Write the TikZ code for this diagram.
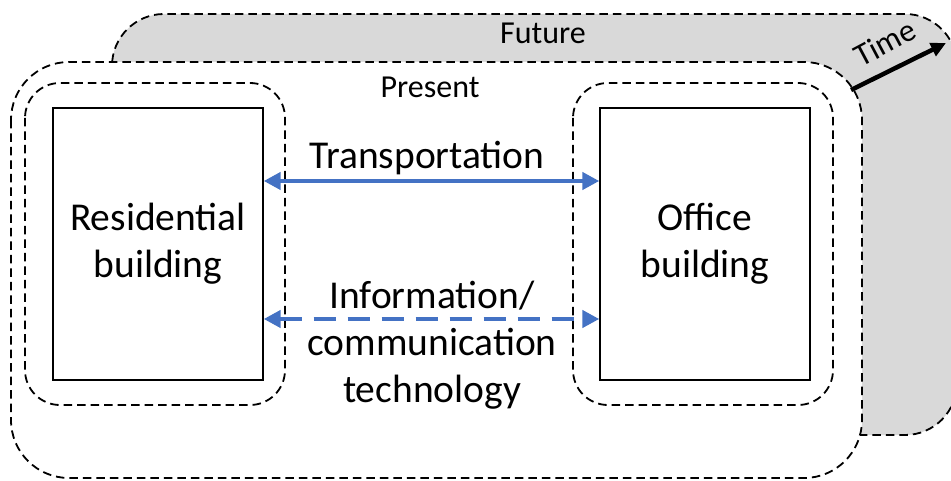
\documentclass[tikz,border=0pt]{standalone}
\usepackage{fontspec}
\setmainfont{Carlito}
\usetikzlibrary{arrows.meta}
\definecolor{grayfill}{RGB}{217,217,217}
\definecolor{linkblue}{RGB}{68,114,196}
\begin{document}
\begin{tikzpicture}[x=1pt,y=-1pt,
  dashbox/.style={draw=black,line width=1.8pt,dash pattern=on 8.5pt off 5pt},
  solidbox/.style={draw=black,line width=1.4pt,fill=white,minimum width=210pt,minimum height=272pt,inner sep=0pt,align=center,font=\fontsize{39.5}{47}\selectfont},
  bigtxt/.style={font=\fontsize{39.5}{47}\selectfont,align=center,inner sep=0pt},
  smalltxt/.style={font=\fontsize{32}{38}\selectfont,inner sep=0pt},
  link/.style={draw=linkblue,line width=4.5pt,{Triangle[length=17pt,width=17pt]}-{Triangle[length=17pt,width=17pt]}}
]
\useasboundingbox (0,0) rectangle (951,481);
% future layer
\path[dashbox,fill=grayfill,rounded corners=52pt] (112,14) rectangle (957,435);
% present layer
\path[dashbox,fill=white,rounded corners=58pt] (11,62) rectangle (862,478);
% inner boxes
\path[dashbox,rounded corners=35pt] (25,83) rectangle (285,405);
\path[dashbox,rounded corners=35pt] (573,83) rectangle (833,405);
% buildings
\node[solidbox] (res) at (158,244) {Residential\\building};
\node[solidbox] (off) at (705,244) {Office\\building};
% labels
\node[smalltxt] (future) at (543,33) {Future};
\node[smalltxt] (present) at (430,87) {Present};
\coordinate (t0) at (851,90);
\coordinate (t1) at (946,43);
\draw[line width=4.5pt,-{Triangle[length=15pt,width=14pt]}] (t0) -- (t1);
\node[smalltxt,rotate=28] (time) at (885,43) {Time};
% links
\draw[link] ([yshift=63pt]res.east) -- ([yshift=63pt]off.west);
\draw[link,dash pattern=on 22pt off 12pt] ([yshift=-75pt]res.east) -- ([yshift=-75pt]off.west);
\node[bigtxt] (trans) at (427,158) {Transportation};
\node[bigtxt,anchor=north] (ict) at (432,281) {Information/\\communication\\technology};
\end{tikzpicture}
\end{document}
